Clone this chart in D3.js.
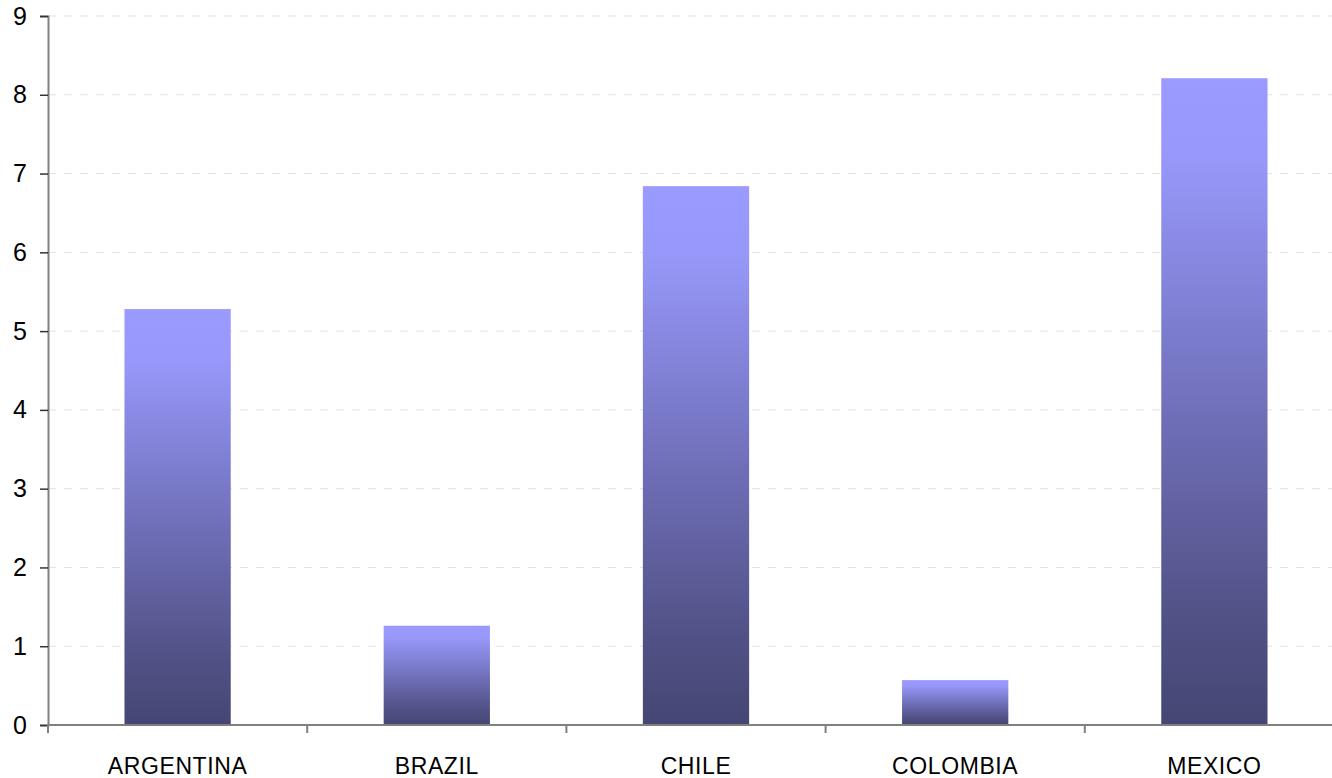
<!DOCTYPE html>
<html>
<head>
<meta charset="utf-8">
<script src="https://cdn.jsdelivr.net/npm/d3@7"></script>
<style>
  html, body { margin: 0; padding: 0; background: #fff; }
  svg { display: block; }
  .tick text { font-family: "Liberation Sans", Arial, sans-serif; fill: #000; }
</style>
</head>
<body>
<svg id="chart" width="1332" height="778"></svg>
<script>
// Categories and their values
const countries = ["ARGENTINA", "BRAZIL", "CHILE", "COLOMBIA", "MEXICO"];
const values = [5.28, 1.26, 6.84, 0.57, 8.21];
const yTicks = [0, 1, 2, 3, 4, 5, 6, 7, 8, 9];

const svg = d3.select("#chart");
const margin = { left: 48, top: 16, bottom: 53 };
const height = 778;
const y0 = height - margin.bottom;

const x = d3.scaleBand()
  .domain(countries)
  .range([margin.left, margin.left + 5 * 259.2])
  .paddingInner(0.59)
  .paddingOuter(0.295);

const y = d3.scaleLinear()
  .domain([0, 9])
  .range([y0, margin.top]);

// Vertical gradient for each bar
const defs = svg.append("defs");
const grad = defs.append("linearGradient")
  .attr("id", "barFill")
  .attr("x1", 0).attr("y1", 0).attr("x2", 0).attr("y2", 1);
grad.append("stop").attr("offset", "0%").attr("stop-color", "#9a9aff");
grad.append("stop").attr("offset", "12%").attr("stop-color", "#9898fb");
grad.append("stop").attr("offset", "55%").attr("stop-color", "#6c6cb4");
grad.append("stop").attr("offset", "85%").attr("stop-color", "#505084");
grad.append("stop").attr("offset", "100%").attr("stop-color", "#464674");

// Dashed gridlines
svg.append("g")
  .selectAll("line")
  .data(yTicks.filter(d => d > 0))
  .join("line")
  .attr("x1", margin.left)
  .attr("x2", 1332)
  .attr("y1", d => y(d))
  .attr("y2", d => y(d))
  .attr("stroke", "#e2e2e2")
  .attr("stroke-width", 1)
  .attr("stroke-dasharray", "8,8");

// Bars
svg.append("g")
  .selectAll("rect")
  .data(countries)
  .join("rect")
  .attr("x", d => x(d))
  .attr("width", x.bandwidth())
  .attr("y", (d, i) => y(values[i]))
  .attr("height", (d, i) => y0 - y(values[i]))
  .attr("fill", "url(#barFill)");

// Y axis
const yAxis = svg.append("g")
  .attr("transform", `translate(${margin.left},0)`)
  .call(d3.axisLeft(y).tickValues(yTicks).tickSize(8).tickPadding(13).tickFormat(d3.format("d")));
yAxis.select(".domain").attr("stroke", "#808080").attr("stroke-width", 2);
yAxis.selectAll(".tick line").attr("stroke", "#333").attr("stroke-width", 1.5);
yAxis.selectAll(".tick text").attr("font-size", 25);

// X axis with ticks at band boundaries
const bandEdges = countries.map(c => x(c) - x.step() * x.paddingInner() / 2);
const xAxis = svg.append("g")
  .attr("transform", `translate(0,${y0})`);
xAxis.append("line")
  .attr("x1", margin.left).attr("x2", 1332)
  .attr("y1", 0).attr("y2", 0)
  .attr("stroke", "#808080").attr("stroke-width", 2);
xAxis.selectAll("line.edge")
  .data(bandEdges)
  .join("line")
  .attr("class", "edge")
  .attr("x1", d => d).attr("x2", d => d)
  .attr("y1", 0).attr("y2", 8)
  .attr("stroke", "#808080").attr("stroke-width", 2);
xAxis.selectAll("text")
  .data(countries)
  .join("text")
  .attr("x", d => x(d) + x.bandwidth() / 2)
  .attr("y", 49)
  .attr("text-anchor", "middle")
  .attr("font-family", "Liberation Sans, Arial, sans-serif")
  .attr("font-size", 23)
  .attr("letter-spacing", 0.6)
  .text(d => d);
</script>
</body>
</html>
